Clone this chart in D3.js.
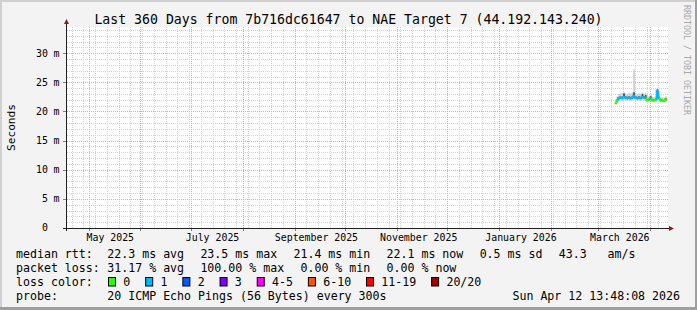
<!DOCTYPE html>
<html>
<head>
<meta charset="utf-8">
<script src="https://cdn.jsdelivr.net/npm/d3@7"></script>
<style>
  body { margin: 0; background: #f3f3f3; }
  svg { display: block; }
  text { font-family: "DejaVu Sans Mono", monospace; fill: #000; }
</style>
</head>
<body>
<svg id="chart" width="697" height="310"></svg>
<script>
// ---- chart values ----
const endTime = new Date(2026, 3, 12, 13, 48, 8)
const rangeDays = 360

// one value per day, only the last month has data
const dayDates = ["2026-03-11", "2026-03-12", "2026-03-13", "2026-03-14", "2026-03-15", "2026-03-16",
  "2026-03-17", "2026-03-18", "2026-03-19", "2026-03-20", "2026-03-21", "2026-03-22", "2026-03-23",
  "2026-03-24", "2026-03-25", "2026-03-26", "2026-03-27", "2026-03-28", "2026-03-29", "2026-03-30",
  "2026-03-31", "2026-04-01", "2026-04-02", "2026-04-03", "2026-04-04", "2026-04-05", "2026-04-06",
  "2026-04-07", "2026-04-08", "2026-04-09", "2026-04-10"]
const medianMs = [21.4, 21.9, 22.3, 22.4, 22.3, 22.5, 22.4, 22.3, 22.4, 22.3, 22.4, 22.7, 22.4,
  22.3, 22.4, 22.3, 22.5, 22.4, 22.4, 21.9, 22.0, 22.3, 21.9, 21.9, 22.0, 23.5, 22.3,
  21.9, 21.9, 21.8, 22.1]
// lost pings out of 20 -> picks the loss colour
const lossCount = [0, 0, 1, 1, 1, 1, 1, 1, 1, 1, 1, 1, 1,
  1, 1, 1, 1, 1, 1, 0, 0, 1, 0, 0, 0, 1, 1,
  0, 0, 0, 0]
// outer smoke (min / max ping)
const smokeLow = [21.3, 21.6, 21.8, 21.9, 21.8, 21.9, 21.9, 21.8, 21.9, 21.8, 21.9, 22.0, 21.9,
  21.8, 21.9, 21.8, 21.9, 21.9, 21.9, 21.6, 21.7, 21.8, 21.6, 21.6, 21.7, 22.0, 21.8,
  21.6, 21.6, 21.6, 21.7]
const smokeHigh = [21.7, 22.6, 23.0, 23.1, 23.2, 23.3, 23.1, 23.0, 23.2, 23.1, 23.3, 27.2, 23.2,
  23.0, 23.1, 23.0, 23.3, 23.1, 23.2, 22.6, 22.7, 22.9, 22.5, 22.5, 22.6, 24.0, 23.0,
  22.4, 22.5, 22.4, 22.6]
// darker inner smoke
const coreLow = [21.35, 21.8, 22.1, 22.2, 22.1, 22.3, 22.2, 22.1, 22.2, 22.1, 22.2, 22.4, 22.2,
  22.1, 22.2, 22.1, 22.3, 22.2, 22.2, 21.8, 21.9, 22.1, 21.8, 21.8, 21.9, 22.3, 22.1,
  21.8, 21.8, 21.7, 21.9]
const coreHigh = [21.5, 22.1, 22.5, 22.6, 22.5, 23.1, 22.6, 22.5, 22.6, 22.5, 22.6, 23.3, 22.6,
  22.5, 22.6, 22.5, 23.0, 22.6, 22.8, 22.0, 22.2, 22.6, 22.1, 22.1, 22.2, 23.8, 22.5,
  22.1, 22.0, 22.0, 22.3]

const yMax = 34.5
const yTicks = [0, 5, 10, 15, 20, 25, 30]
const yTickUnits = ["", "m", "m", "m", "m", "m", "m"]

const lossLabels = ["0", "1", "2", "3", "4-5", "6-10", "11-19", "20/20"]
const lossColors = ["#26ff00", "#00b8ff", "#0059ff", "#7e00ff", "#ff00ff", "#ff5500", "#ff0000", "#a00000"]
// loss count -> legend bucket
const lossBuckets = [0, 1, 2, 3, 5, 10, 19, 20]

const rttStats = ["22.3 ms avg", "23.5 ms max", "21.4 ms min", "22.1 ms now", "0.5 ms sd", "43.3   am/s"]
const lossStats = ["31.17 % avg", "100.00 % max", "0.00 % min", "0.00 % now"]
const probeText = "20 ICMP Echo Pings (56 Bytes) every 300s"
const stampText = "Sun Apr 12 13:48:08 2026"
const titleText = "Last 360 Days from 7b716dc61647 to NAE Target 7 (44.192.143.240)"

// ---- layout ----
const W = 697, H = 310
const plot = { left: 66, right: 668, top: 27, bottom: 228 }
const parseDay = d3.timeParse("%Y-%m-%d")
const days = dayDates.map(parseDay)
const startTime = d3.timeDay.offset(endTime, -rangeDays)

const svg = d3.select("#chart")

// frame: background + shades
svg.append("rect").attr("width", W).attr("height", H).attr("fill", "#f3f3f3")
svg.append("rect").attr("x", 0).attr("y", 0).attr("width", W).attr("height", 2).attr("fill", "#d0d0d0")
svg.append("rect").attr("x", 0).attr("y", 0).attr("width", 2).attr("height", H).attr("fill", "#d0d0d0")
svg.append("rect").attr("x", W - 2).attr("y", 0).attr("width", 2).attr("height", H).attr("fill", "#9e9e9e")
svg.append("rect").attr("x", 0).attr("y", H - 3).attr("width", W).attr("height", 3).attr("fill", "#9e9e9e")

// canvas
svg.append("rect")
  .attr("x", plot.left).attr("y", plot.top)
  .attr("width", plot.right - plot.left).attr("height", plot.bottom - plot.top)
  .attr("fill", "#ffffff")

const x = d3.scaleTime().domain([startTime, endTime]).range([plot.left, plot.right + 1.4])
const y = d3.scaleLinear().domain([0, yMax]).range([plot.bottom, plot.top])
const px = v => Math.round(v) + 0.5

const grid = svg.append("g").attr("stroke-dasharray", "1,1").attr("stroke-width", 1)

// minor grid: every 1 ms and every week
const minorY = d3.range(1, Math.floor(yMax) + 1).filter(v => v % 5 !== 0)
grid.selectAll(".hmin").data(minorY).join("line")
  .attr("x1", plot.left + 1).attr("x2", plot.right)
  .attr("y1", d => px(y(d))).attr("y2", d => px(y(d)))
  .attr("stroke", "#d2d2d2")
const weeks = d3.timeMonday.range(startTime, endTime)
grid.selectAll(".vmin").data(weeks).join("line")
  .attr("x1", d => px(x(d))).attr("x2", d => px(x(d)))
  .attr("y1", plot.top).attr("y2", plot.bottom)
  .attr("stroke", "#d2d2d2")

// major grid: every 5 ms and every month
grid.selectAll(".hmaj").data(yTicks.filter(v => v > 0)).join("line")
  .attr("x1", plot.left + 1).attr("x2", plot.right)
  .attr("y1", d => px(y(d))).attr("y2", d => px(y(d)))
  .attr("stroke", "#f2a0a0")
const months = d3.timeMonth.range(d3.timeDay.offset(startTime, 1), endTime)
grid.selectAll(".vmaj").data(months).join("line")
  .attr("x1", d => px(x(d))).attr("x2", d => px(x(d)))
  .attr("y1", plot.top).attr("y2", plot.bottom)
  .attr("stroke", "#f2a0a0")

// ticks outside the canvas
svg.append("g").selectAll("line").data(yTicks).join("line")
  .attr("x1", plot.left - 3).attr("x2", plot.left)
  .attr("y1", d => px(y(d))).attr("y2", d => px(y(d)))
  .attr("stroke", "#808080")
svg.append("g").selectAll("line").data(months).join("line")
  .attr("x1", d => px(x(d))).attr("x2", d => px(x(d)))
  .attr("y1", plot.bottom).attr("y2", plot.bottom + 3)
  .attr("stroke", "#808080")

// ---- smoke + median ----
const dayW = d => x(d3.timeDay.offset(d, 1)) - x(d)
const data = days.map((d, i) => ({
  day: d, med: medianMs[i], loss: lossCount[i],
  lo: smokeLow[i], hi: smokeHigh[i], clo: coreLow[i], chi: coreHigh[i]
}))

svg.append("g").selectAll("rect").data(data).join("rect")
  .attr("x", d => x(d.day)).attr("width", d => dayW(d.day))
  .attr("y", d => y(d.hi)).attr("height", d => y(d.lo) - y(d.hi))
  .attr("fill", "#cfcfcf")
svg.append("g").selectAll("rect").data(data).join("rect")
  .attr("x", d => x(d.day)).attr("width", d => dayW(d.day))
  .attr("y", d => y(d.chi)).attr("height", d => y(d.clo) - y(d.chi))
  .attr("fill", "#4a4a4a")

function lossColor(n) {
  let idx = lossBuckets.findIndex(b => n <= b)
  return lossColors[idx < 0 ? lossColors.length - 1 : idx]
}

// median as a stepped line, each step coloured by its packet loss
svg.append("g").selectAll("path").data(data).join("path")
  .attr("d", (d, i) => {
    let prev = i > 0 ? data[i - 1].med : d.med
    let x0 = x(d.day), x1 = x0 + dayW(d.day)
    return `M${x0},${y(prev)}V${y(d.med)}H${x1}`
  })
  .attr("fill", "none")
  .attr("stroke", d => lossColor(d.loss))
  .attr("stroke-width", 2)

// ---- axes ----
const axisColor = "#202020", arrowColor = "#7f1f1f"
svg.append("line")
  .attr("x1", plot.left - 3).attr("x2", plot.right + 1)
  .attr("y1", px(plot.bottom)).attr("y2", px(plot.bottom))
  .attr("stroke", axisColor)
svg.append("line")
  .attr("x1", px(plot.left)).attr("x2", px(plot.left))
  .attr("y1", plot.bottom + 3).attr("y2", plot.top - 5)
  .attr("stroke", axisColor)
svg.append("path")
  .attr("d", `M${plot.right + 1},${px(plot.bottom) - 2.5}L${plot.right + 6},${px(plot.bottom)}L${plot.right + 1},${px(plot.bottom) + 2.5}Z`)
  .attr("fill", arrowColor)
svg.append("path")
  .attr("d", `M${px(plot.left) - 2.5},${plot.top - 3}L${px(plot.left)},${plot.top - 8}L${px(plot.left) + 2.5},${plot.top - 3}Z`)
  .attr("fill", arrowColor)

// y labels: number right aligned, unit after it
const yl = svg.append("g").style("font-size", "9.9px")
yl.selectAll(".num").data(yTicks).join("text")
  .attr("x", 48).attr("y", d => y(d) + 3.4)
  .attr("text-anchor", "end")
  .text(d => d)
yl.selectAll(".unit").data(yTicks).join("text")
  .attr("x", 53.6).attr("y", d => y(d) + 3.4)
  .text((d, i) => yTickUnits[i])

// x labels every 2nd month, placed mid-month like rrdtool
const labelMonths = months.filter(m => m.getMonth() % 2 === 0)
svg.append("g").style("font-size", "9.9px")
  .selectAll("text").data(labelMonths).join("text")
  .attr("x", d => x(d3.timeDay.offset(d, 13)))
  .attr("y", 241)
  .attr("text-anchor", "middle")
  .text(d => d3.timeFormat("%B %Y")(d))

svg.append("text")
  .attr("transform", `translate(14.5,${(plot.top + plot.bottom) / 2}) rotate(-90)`)
  .attr("text-anchor", "middle")
  .style("font-size", "11.1px")
  .text("Seconds")

svg.append("text")
  .attr("x", W / 2).attr("y", 23.5)
  .attr("text-anchor", "middle")
  .style("font-size", "13.2px")
  .text(titleText)

svg.append("text")
  .attr("transform", "translate(684,5) rotate(90)")
  .style("font-size", "8.3px")
  .style("fill", "#a8a8a8")
  .text("RRDTOOL / TOBI OETIKER")

// ---- legend ----
const lg = svg.append("g").style("font-size", "11.6px")
const rows = [258, 272, 286, 300]
const valueX = 107.3, gap = 16.3

function placeRow(items, rowY) {
  let cx = valueX
  items.forEach(t => {
    let node = lg.append("text").attr("x", cx).attr("y", rowY).attr("xml:space", "preserve").text(t)
    cx += node.node().getComputedTextLength() + gap
  })
}

lg.append("text").attr("x", 16).attr("y", rows[0]).text("median rtt:")
placeRow(rttStats, rows[0])
lg.append("text").attr("x", 16).attr("y", rows[1]).text("packet loss:")
placeRow(lossStats, rows[1])
lg.append("text").attr("x", 16).attr("y", rows[2]).text("loss color:")

let bx = 108.5
lossLabels.forEach((lab, i) => {
  lg.append("rect")
    .attr("x", bx).attr("y", rows[2] - 8.5)
    .attr("width", 7).attr("height", 8.5)
    .attr("fill", lossColors[i]).attr("stroke", "#000").attr("stroke-width", 1)
  let t = lg.append("text").attr("x", bx + 14.8).attr("y", rows[2]).text(lab)
  bx += 14.8 + t.node().getComputedTextLength() + 15.4
})

lg.append("text").attr("x", 16).attr("y", rows[3]).text("probe:")
lg.append("text").attr("x", valueX).attr("y", rows[3]).text(probeText)
lg.append("text").attr("x", 680).attr("y", rows[3]).attr("text-anchor", "end").text(stampText)
</script>
</body>
</html>
